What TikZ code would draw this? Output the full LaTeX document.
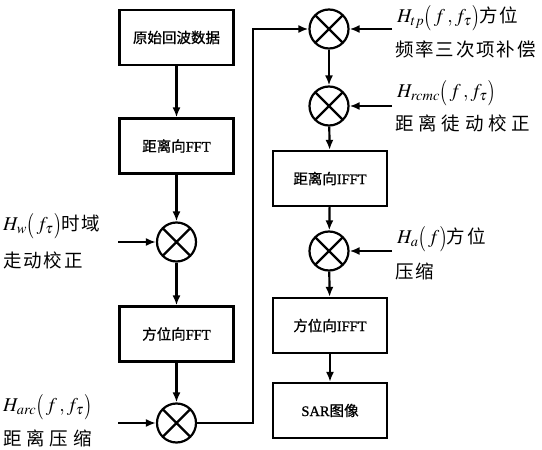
\documentclass[tikz,border=0pt]{standalone}
\usepackage{mathptmx}
\usepackage{graphicx}
\usepackage{fontspec}
\usetikzlibrary{arrows.meta}
\setmainfont{Liberation Serif}
\newfontfamily\cjk{Noto Sans CJK SC}
\newfontfamily\cjkm[FakeBold=1]{Noto Sans CJK SC}
\newfontfamily\lsb[FakeBold=1]{Liberation Serif}
\newfontfamily\cjka[LetterSpace=10]{Noto Sans CJK SC}
\newfontfamily\cjkb[LetterSpace=26]{Noto Sans CJK SC}
\newcommand{\mth}[1]{{\fontsize{19.5}{24}\selectfont$#1$}}
\newcommand{\lpar}{\mathopen{\raisebox{-1.5pt}{\scalebox{1}[1.3]{$($}}}}
\newcommand{\rpar}{\mathclose{\raisebox{-1.5pt}{\scalebox{1}[1.3]{$)$}}}}
\begin{document}
\begin{tikzpicture}[x=1pt,y=-1pt,
  proc/.style={draw,line width=2.2pt,minimum width=114pt,minimum height=55pt,inner sep=0pt,font=\fontsize{14.5}{17}\selectfont\lsb},
  mult/.style={circle,draw,line width=2.2pt,minimum size=39pt,inner sep=0pt,
    path picture={\draw[line width=2.2pt] (path picture bounding box.north west)--(path picture bounding box.south east)
      (path picture bounding box.north east)--(path picture bounding box.south west);}},
  lbl/.style={anchor=west,inner sep=0pt,font=\fontsize{18.5}{20}\selectfont},
  arr/.style={line width=2.2pt,-{Latex[length=10pt,width=8pt]}}]
\useasboundingbox (0,0) rectangle (542,450);
% left column
\node[proc] (b1) at (176.5,37.5) {\cjkm 原始回波数据};
\node[proc] (b2) at (176.5,146) {{\cjkm 距离向}FFT};
\node[mult] (m1) at (176.5,242) {};
\node[proc] (b3) at (176.5,334) {{\cjkm 方位向}FFT};
\node[mult] (m2) at (176.5,423) {};
% right column
\node[mult] (m3) at (329,29) {};
\node[mult] (m4) at (329,106) {};
\node[proc] (b4) at (330,178.5) {{\cjkm 距离向}IFFT};
\node[mult] (m5) at (329,251) {};
\node[proc] (b5) at (330,325.5) {{\cjkm 方位向}IFFT};
\node[proc] (b6) at (330,410.5) {SAR{\cjkm 图像}};
% labels
\node[lbl] (l1a) at (3,226) {\mth{H_{w}\lpar\,f_\tau\rpar}{\cjka 时域}};
\node[lbl] (l1b) at (3,260) {\cjka 走动校正};
\node[lbl] (l2a) at (3,407) {\mth{H_{arc}\lpar\,f\,,f_\tau\rpar}};
\node[lbl] (l2b) at (3,438) {\cjkb 距离压缩};
\node[lbl] (l3a) at (397,18) {\mth{H_{tp}\lpar\,f\,,f_\tau\rpar}{\cjka 方位}};
\node[lbl] (l3b) at (395,49) {\cjka 频率三次项补偿};
\node[lbl] (l4a) at (397,93) {\mth{H_{rcmc}\lpar\,f\,,f_\tau\rpar}};
\node[lbl] (l4b) at (395,123) {\cjkb 距离徒动校正};
\node[lbl] (l5a) at (397,239) {\mth{H_{a}\lpar\,f\rpar}{\cjka 方位}};
\node[lbl] (l5b) at (395,271) {\cjka 压缩};
% input coordinates
\coordinate (i1) at (118,242);
\coordinate (i2) at (118,423);
\coordinate (i3) at (392,29);
\coordinate (i4) at (392,106);
\coordinate (i5) at (392,251);
\coordinate (c1) at (253,423);
\coordinate (c2) at (253,29);
% connectors
\draw[arr] (b1) -- (b2);
\draw[arr] (b2) -- (m1);
\draw[arr] (m1) -- (b3);
\draw[arr] (b3) -- (m2);
\draw[arr] (i1) -- (m1);
\draw[arr] (i2) -- (m2);
\draw[arr] (m2) -- (c1) -- (c2) -- (m3);
\draw[arr] (i3) -- (m3);
\draw[arr] (m3) -- (m4);
\draw[arr] (i4) -- (m4);
\draw[arr] (m4) -- (b4);
\draw[arr] (i5) -- (m5);
\draw[arr] (b4) -- (m5);
\draw[arr] (m5) -- (b5);
\draw[arr] (b5) -- (b6);
\end{tikzpicture}
\end{document}
